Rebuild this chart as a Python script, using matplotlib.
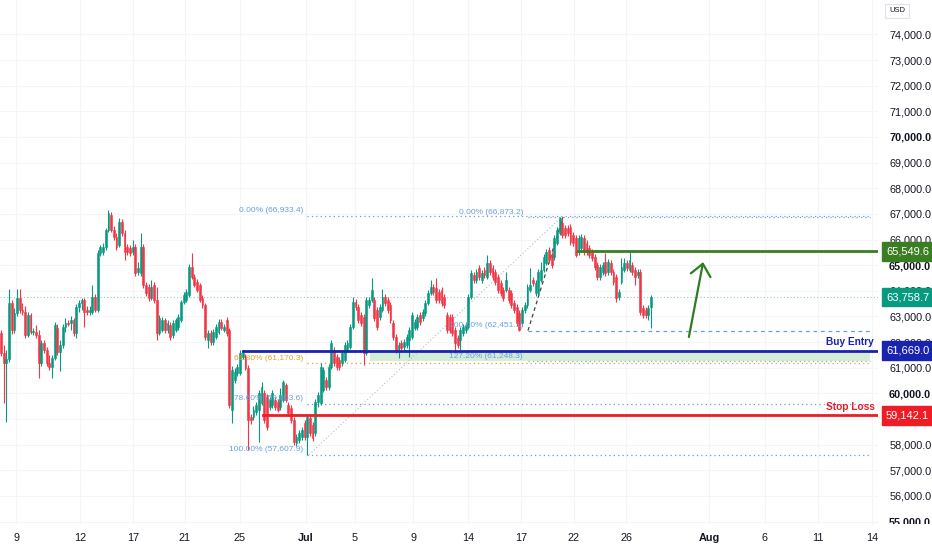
import numpy as np
import matplotlib
matplotlib.use('Agg')
import matplotlib.pyplot as plt
from matplotlib.transforms import Bbox, TransformedBbox, IdentityTransform, blended_transform_factory

plt.rcParams['font.family'] = ['Liberation Sans', 'DejaVu Sans']

# ---------------- data ----------------
opens = [62360, 61580, 61190, 61340, 63530, 62470, 63140, 63720, 63250, 63170,
         62280, 63060, 62390, 62390, 62280, 61190, 61970, 61690, 61190, 61030, 61380,
         62550, 61610, 61890, 62590, 62750, 62750, 62860, 62360, 63370, 63530, 63640,
         63250, 63170, 63170, 63760, 63250, 65480, 65510, 65710, 66370, 66960, 66370,
         66100, 65790, 66680, 66260, 65710, 65670, 65510, 65710, 64730, 64700,
         65710, 64230, 64150, 63720, 64230, 63640, 62360, 62470, 62860, 62470,
         62670, 62280, 62470, 62590, 62860, 63560, 63640, 63840, 64930, 64540,
         64340, 64230, 63720, 63450, 62080, 62360, 62000, 62200, 62390, 62780,
         62470, 62860, 62470, 59350, 60520, 60800, 60800, 61420, 61420, 60990,
         59080, 59080, 59270, 59350, 59630, 60020, 59860, 59470, 59550, 59740,
         59660, 59470, 59740, 60330, 59550, 59430, 58960,
         58070, 58180, 58300, 58850, 58300, 59040, 58770, 58460, 59660, 59630,
         60130, 60520, 60250, 61030, 61690, 61420, 61300, 61190, 61300, 61690,
         61810, 62590, 63560, 63370, 63060, 62980, 61580, 63450, 63640, 63640,
         63250, 62980, 63250, 63760, 63640, 63450, 62750, 62200, 61690, 61970,
         61810, 61890, 62080, 62200, 62550, 62590, 63060, 62940, 63140, 63530,
         63920, 64150, 64110, 63950, 64030, 63760, 63060, 62980, 62980, 62470,
         62160, 62080, 62360, 62470, 62590, 63760, 64620, 64420, 64890, 64420,
         64810, 64540, 65090, 64890, 64730, 64540, 64310, 64030, 64030, 64030,
         63920, 63530, 63370, 63140, 62750, 63250, 63450, 64030, 64420, 63920,
         63920, 64420, 64810, 65090, 65590, 65400, 65320, 65870, 66260, 66650,
         66450, 66450, 66490, 66180, 66060, 65510, 65670, 66060, 65870, 65670,
         65510, 65320, 65010, 64540, 64730, 65120, 64730, 65090, 64730, 64540,
         63760, 64340, 64810, 65090, 64810, 65010, 64810, 64620, 64730, 63330,
         63250, 63060, 63370]

closes = [61580, 61190, 61340, 63530, 62470, 63140, 63720, 63250, 63170, 62280,
          63060, 62390, 62420, 62280, 61190, 61970, 61690, 61190, 61030, 61380, 62670,
          61610, 61890, 62590, 62750, 62700, 62860, 62360, 63370, 63530, 63640, 63170,
          63170, 63250, 63760, 63250, 65480, 65710, 65710, 66370, 67040, 66370, 66100,
          65710, 66680, 66260, 65510, 65510, 65480, 65710, 64700, 64890, 65710,
          64230, 63920, 63720, 64150, 63640, 62360, 62940, 62860, 62470, 62750,
          62200, 62750, 62860, 62980, 63560, 63840, 63950, 64930, 64540, 64230,
          64030, 63640, 63450, 62200, 62360, 62000, 62390, 62590, 62780, 62550,
          62590, 62360, 59550, 60910, 60830, 61030, 61580, 61580, 60990, 58960,
          58960, 59350, 59550, 60020, 60250, 58960, 58690, 59740, 60020, 59470,
          59350, 59940, 60440, 59740, 59240, 58960, 58100,
          58300, 58460, 58570, 58300, 59080, 58460, 58260, 59660, 59940, 61030,
          60910, 60250, 61030, 61970, 61190, 61030, 61030, 61580, 61890, 61970,
          62590, 63560, 63370, 62860, 62750, 61580, 63640, 63640, 64030, 62940,
          62590, 63370, 63760, 63530, 63250, 62860, 62200, 61690, 61890, 61770,
          62000, 62200, 62470, 63060, 62780, 62980, 62780, 63170, 63530, 63920,
          64150, 63950, 63640, 63640, 63530, 63450, 62470, 62470, 62360, 61970,
          61890, 62470, 62590, 62670, 63760, 64700, 64420, 64730, 64540, 64700,
          64620, 65090, 64730, 64540, 64340, 64030, 63920, 63720, 64420, 63640,
          63450, 63250, 62750, 62470, 63250, 63450, 64150, 64230, 64310, 64310,
          64730, 64810, 65320, 65510, 65200, 65010, 66060, 66370, 66840, 66180,
          66180, 66260, 65900, 65870, 65400, 66060, 66100, 65510, 65510, 65400,
          65280, 64930, 64540, 64930, 65010, 64700, 65120, 64730, 64340, 63720,
          63950, 64930, 65090, 64890, 65200, 64730, 64540, 64730, 63170, 63060,
          63060, 63330, 63758.7]

highs = [62470, 61890, 61690, 64070, 63640, 63330, 64070, 64070, 63530, 63410,
         63170, 63140, 62550, 62670, 62470, 62080, 62080, 61810, 61500, 61500, 62780,
         62710, 62080, 62710, 62940, 62860, 63020, 62940, 63490, 63640, 63720, 63720,
         63410, 63410, 64230, 63880, 65590, 65790, 65870, 66450, 67150, 67070, 66530,
         66260, 66840, 66800, 66370, 65830, 65790, 65980, 65830, 65120, 66260,
         65830, 64340, 64270, 64420, 64340, 64150, 63060, 62980, 62940, 62860,
         62780, 62860, 62940, 63100, 63640, 63950, 64070, 65050, 65480, 64660,
         64460, 64310, 63840, 63530, 62470, 62470, 62510, 62710, 62900, 62900,
         62710, 62980, 62550, 61070, 60990, 61150, 61690, 61690, 61540, 61110,
         59200, 59510, 59660, 60130, 60440, 60130, 59980, 59860, 60130, 59860,
         59780, 60210, 60520, 60410, 59660, 59550, 59080,
         58420, 58570, 58690, 58960, 59200, 59160, 58880, 59780, 60050, 61190,
         61030, 60640, 61150, 62080, 61810, 61540, 61420, 61690, 62000, 62080,
         62710, 63760, 63680, 63490, 63170, 63100, 63760, 63760, 64500, 63760,
         63370, 63490, 64070, 63880, 63760, 63560, 62860, 62320, 62000, 62080,
         62120, 62320, 62590, 63170, 62900, 63100, 63170, 63290, 63640, 64030,
         64420, 64270, 64500, 64070, 64150, 63880, 63170, 63100, 63100, 62590,
         62280, 62590, 62710, 62780, 63880, 64810, 64730, 64850, 65010, 64810,
         64930, 65400, 65200, 65010, 64850, 64660, 64420, 64150, 64730, 64150,
         64030, 63640, 63490, 63250, 63370, 63560, 64270, 64890, 64540, 64420,
         64850, 65120, 65440, 65630, 65710, 65510, 66180, 66490, 66873, 66840,
         66570, 66570, 66610, 66290, 66180, 66180, 66220, 66180, 65980, 65790,
         65630, 65440, 65120, 65050, 65120, 65480, 65240, 65200, 64850, 64660,
         64070, 65280, 65280, 65200, 65510, 65120, 64930, 64850, 64850, 63450,
         63370, 63450, 63840]

lows = [61460, 59630, 58880, 61220, 62320, 62360, 63020, 63140, 63060, 62160,
        62200, 62320, 62280, 62160, 60600, 61070, 61580, 61070, 60910, 60600, 61300,
        61500, 60870, 61770, 62390, 62630, 62470, 62240, 62160, 63170, 63250, 62590,
        63060, 63060, 63100, 63170, 63170, 65360, 65400, 65590, 66290, 66290, 65980,
        65590, 65710, 66140, 65200, 65400, 65360, 65400, 64580, 64620, 64580,
        64110, 63800, 63600, 63640, 63530, 62080, 62280, 62390, 62360, 62360,
        62080, 62160, 62390, 62470, 62780, 63490, 63560, 63760, 64460, 64150,
        63950, 63560, 63330, 62080, 61770, 61890, 61890, 62120, 62320, 62470,
        62390, 62240, 59430, 58850, 60410, 60680, 60720, 61340, 60910, 57790,
        58810, 58960, 59160, 58100, 59550, 58850, 58570, 59350, 59430, 59350,
        59270, 59350, 59660, 59660, 59120, 58850, 57990,
        57950, 58070, 58180, 58180, 57607.9, 58340, 58140, 58340, 59470, 59550,
        60050, 60130, 60130, 60950, 61070, 60910, 60910, 61070, 61220, 61610,
        61730, 62510, 63250, 62750, 62630, 61110, 61500, 63330, 63560, 62820,
        62470, 62860, 63170, 63410, 63140, 62750, 62080, 61580, 61380, 61650,
        61690, 61770, 61420, 62120, 62470, 62470, 62670, 62820, 63020, 63450,
        63840, 63840, 63530, 63530, 63410, 63330, 62360, 62360, 62240, 61610,
        61770, 61690, 62240, 62360, 62510, 63680, 64310, 64310, 64420, 64310,
        64500, 64460, 64620, 64420, 64230, 63920, 63800, 63600, 63950, 63530,
        63330, 63140, 62630, 62430, 62630, 63140, 63330, 63950, 64190, 63800,
        63840, 64340, 64730, 65010, 65090, 64890, 65200, 65790, 66180, 66060,
        66060, 66140, 65790, 65750, 65320, 65400, 65590, 65400, 65400, 65280,
        65160, 64810, 64420, 64420, 64620, 64580, 64620, 64620, 64230, 63560,
        63640, 64270, 64730, 64770, 64730, 64620, 64230, 64500, 63060, 62940,
        62940, 62860, 62550]

x_tick_labels = ['9', '12', '17', '21', '25', 'Jul', '5', '9', '14', '17', '22', '26',
                 'Aug', '6', '11', '14']
x_tick_bars = [5.6, 29.4, 49.1, 68.5, 89.0, 113.6, 131.8, 153.4, 173.9, 193.6,
               213.3, 232.7, 263.6, 284.4, 304.2, 324.3]
y_ticks = list(range(55000, 75000, 1000))

target_price = 65549.6
last_price = 63758.7
buy_entry = 61669.0
stop_loss = 59142.1

fib1_names = ['0.00%', '61.80%', '78.60%', '100.00%']
fib1_values = [66933.4, 61170.3, 59603.6, 57607.9]
fib2_names = ['0.00%', '100.00%', '127.20%']
fib2_values = [66873.2, 62451.1, 61248.3]

assert len(opens) == len(closes) == len(highs) == len(lows)

# ---------------- figure ----------------
W, H = 932, 550
fig = plt.figure(figsize=(W / 100, H / 100), dpi=100)
fig.patch.set_facecolor('white')
ax = fig.add_axes([0, 25 / H, 878 / W, 525 / H])
ax.set_facecolor('white')

n = len(closes)
x = np.arange(n)
o = np.array(opens, float)
c = np.array(closes, float)
hi = np.array(highs, float)
lo = np.array(lows, float)
UP, DN = '#089981', '#f23645'
cols = np.where(c >= o, UP, DN)

ax.set_xlim(-0.37, 326.5)
ax.set_ylim(54867, 75342)
XR = 323.5  # right end of drawings

# grid
for yt in y_ticks:
    ax.axhline(yt, color='#f4f5f9', lw=0.8, zorder=0)
for xt in x_tick_bars:
    ax.axvline(xt, color='#f4f5f9', lw=0.8, zorder=0)

# last price line
ax.axhline(last_price, color='#9cc4bc', ls=(0, (1, 2)), lw=0.8, zorder=1)

# candles
ax.vlines(x, lo, hi, colors=cols, linewidth=0.8, zorder=4)
ax.bar(x, np.abs(c - o), bottom=np.minimum(o, c), width=0.68, color=cols,
       edgecolor=cols, linewidth=0.4, zorder=4)

# fib 1
fib_blue = '#6a9fd8'
fib_gold = '#e0a526'
f1_start = 113.9
for name, v in zip(fib1_names, fib1_values):
    colr = fib_gold if name == '61.80%' else fib_blue
    ax.plot([f1_start, XR], [v, v], color=colr, ls=(0, (1, 2.5)), lw=0.9, zorder=2)
    ax.annotate(f'{name} ({v:,.1f})', xy=(112.4, v), xytext=(0, 1),
                textcoords='offset points', ha='right', va='bottom',
                fontsize=6.0, color=colr, zorder=6)
ax.plot([114.7, 209.2], [fib1_values[3], fib1_values[0]], color='#b8bcc4',
        ls=(0, (1, 2)), lw=0.8, zorder=2)

# fib 2
f2_start = 196.2
for name, v in zip(fib2_names, fib2_values):
    ls = (0, (3, 3)) if name == '100.00%' else (0, (1, 2.5))
    colr = '#7fb0c8' if name == '127.20%' else fib_blue
    ax.plot([f2_start, XR], [v, v], color=colr, ls=ls, lw=0.9, zorder=2)
    ax.annotate(f'{name} ({v:,.1f})', xy=(194.3, v), xytext=(0, 1),
                textcoords='offset points', ha='right', va='bottom',
                fontsize=6.0, color=fib_blue, zorder=6)
ax.plot([f2_start, 209.2], [fib2_values[1], fib2_values[0]], color='#444444',
        ls=(0, (3, 2.5)), lw=0.9, zorder=2)

# buy zone
ax.fill_between([137.4, XR], fib2_values[2], buy_entry, color='#d5ecd7', zorder=1, lw=0)

# level lines
ax.plot([90.1, 326.5], [buy_entry, buy_entry], color='#1a22b0', lw=2.0, zorder=5)
ax.plot([97.5, 326.5], [stop_loss, stop_loss], color='#ee1c25', lw=2.0, zorder=5)
ax.plot([214.8, 326.5], [target_price, target_price], color='#3b7d23', lw=2.0, zorder=5)

ax.annotate('Buy Entry', xy=(325.0, buy_entry), xytext=(0, 2.5), textcoords='offset points',
            ha='right', va='bottom', fontsize=7.3, fontweight='bold', color='#1a22b0', zorder=6)
ax.annotate('Stop Loss', xy=(325.5, stop_loss), xytext=(0, 2.5), textcoords='offset points',
            ha='right', va='bottom', fontsize=7.3, fontweight='bold', color='#ee1c25', zorder=6)

# arrow
ax.annotate('', xy=(261.4, 65120), xytext=(256.1, 62200),
            arrowprops=dict(arrowstyle='->,head_length=0.7,head_width=0.6',
                            color='#2f7d1f', lw=1.6, mutation_scale=12,
                            shrinkA=0, shrinkB=0), zorder=6)

# axes styling
for s in ax.spines.values():
    s.set_visible(False)
ax.yaxis.tick_right()
ax.set_yticks(y_ticks)
ax.set_yticklabels([f'{v:,.1f}' for v in y_ticks])
ax.tick_params(axis='y', length=0, pad=8, labelsize=7.8, labelcolor='#131722')
clipbox = TransformedBbox(Bbox([[0, 26], [W, H]]), IdentityTransform())
for v, lab in zip(y_ticks, ax.get_yticklabels()):
    if v % 5000 == 0:
        lab.set_fontweight('bold')
    lab.set_clip_box(clipbox)
    lab.set_clip_on(True)

ax.set_xticks(x_tick_bars)
ax.set_xticklabels(x_tick_labels)
ax.tick_params(axis='x', length=0, pad=6, labelsize=7.8, labelcolor='#131722')
for lab in ax.get_xticklabels():
    if lab.get_text() in ('Jul', 'Aug'):
        lab.set_fontweight('bold')

# price tags
bt = blended_transform_factory(ax.transAxes, ax.transData)
tags = [(target_price, '#3b7d23'), (last_price, UP), (buy_entry, '#1a22b0'), (stop_loss, '#ee1c25')]
for v, colr in tags:
    ax.text(1.0 + 8 / 878, v, f'{v:,.1f}', transform=bt, ha='left', va='center',
            fontsize=8, color='white', clip_on=False, zorder=10,
            bbox=dict(boxstyle='square,pad=0.4', fc=colr, ec=colr))

fig.text(889 / W, 1 - 11 / H, 'USD', fontsize=5.5, color='#131722', ha='left', va='center',
         bbox=dict(boxstyle='square,pad=0.5', fc='white', ec='#e0e3eb', lw=0.8))

fig.savefig('out.png', dpi=100, facecolor='white')
